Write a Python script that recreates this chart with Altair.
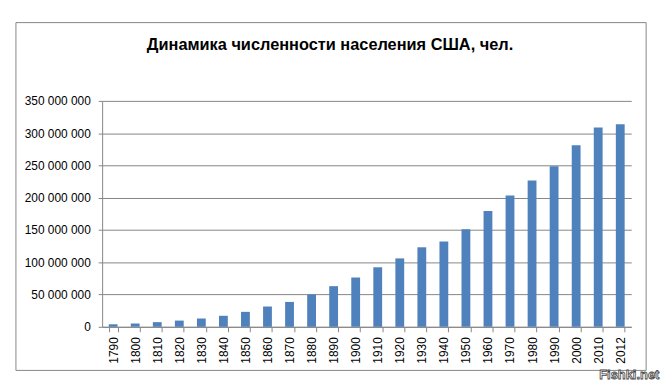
import altair as alt
import pandas as pd

years = ["1790", "1800", "1810", "1820", "1830", "1840", "1850", "1860", "1870", "1880",
         "1890", "1900", "1910", "1920", "1930", "1940", "1950", "1960", "1970", "1980",
         "1990", "2000", "2010", "2012"]
population = [3929214, 5308483, 7239881, 9638453, 12866020, 17069453, 23191876, 31443321,
              38558371, 50189209, 62979766, 76212168, 92228496, 106021537, 123202624,
              132164569, 151325798, 179323175, 203302031, 226542199, 248709873, 281421906,
              308745538, 313914040]
y_ticks = [0, 50000000, 100000000, 150000000, 200000000, 250000000, 300000000, 350000000]
title_text = ["Динамика численности населения США, чел."]
watermark = ["Fishki.net"]

df = pd.DataFrame({"year": years, "pop": population})

FONT = "Liberation Sans"
GREY = "#868686"

bars = alt.Chart(df).mark_bar(color="#4F81BD").encode(
    x=alt.X("year:N", sort=years, title=None,
            scale=alt.Scale(paddingInner=0.6, paddingOuter=0.3),
            axis=alt.Axis(labelAngle=-90, labelAlign="right", labelBaseline="middle",
                          labelPadding=5, tickSize=5, tickBand="extent",
                          domainColor=GREY, tickColor=GREY,
                          labelFont=FONT, labelFontSize=12, labelColor="#000")),
    y=alt.Y("pop:Q", title=None,
            scale=alt.Scale(domain=[0, 350000000], nice=False),
            axis=alt.Axis(values=y_ticks, tickSize=4, labelPadding=8,
                          labelExpr="join(split(format(datum.value, ','), ','), ' ')",
                          domainColor=GREY, tickColor=GREY, gridColor=GREY,
                          labelFont=FONT, labelFontSize=12, labelColor="#000")),
)

frame = alt.Chart(pd.DataFrame({"a": [0]})).mark_rect(
    fill=None, stroke=GREY, strokeWidth=1, clip=False
).encode(
    x=alt.value(-87), x2=alt.value(549), y=alt.value(-79), y2=alt.value(272)
)

title = alt.Chart(pd.DataFrame({"t": title_text})).mark_text(
    font=FONT, fontSize=16.5, fontWeight="bold", color="#000", align="center",
    baseline="middle", clip=False
).encode(
    text="t:N", x=alt.value(230), y=alt.value(-56)
)

mark_wm = alt.Chart(pd.DataFrame({"t": watermark})).mark_text(
    font=FONT, fontSize=13, fontWeight="bold", fill="#ffffff", stroke="#444444",
    strokeWidth=0.8, align="center", baseline="middle", clip=False
).encode(
    text="t:N", x=alt.value(532), y=alt.value(277)
)

chart = alt.layer(frame, bars, title, mark_wm).properties(
    width=534, height=228,
    padding={"left": 95, "top": 92, "right": 30, "bottom": 60},
    autosize=alt.AutoSizeParams(type="none"),
).configure_view(stroke=None)

chart.save("out.html", embed_options={"renderer": "svg", "actions": False})
